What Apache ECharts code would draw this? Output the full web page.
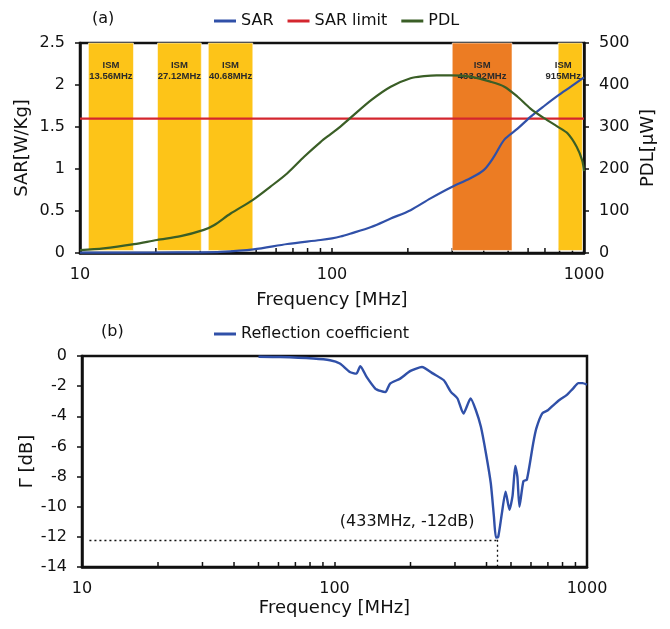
<!DOCTYPE html>
<html><head><meta charset="utf-8">
<script src="https://cdn.jsdelivr.net/npm/echarts@6/dist/echarts.min.js"></script>
<style>html,body{margin:0;padding:0;background:#fff}#c{width:670px;height:629px}</style>
</head><body><div id="c"></div>
<script>
// ---------- DATA ----------
const sarFreq = [10, 20, 30, 36, 48.8, 66.5, 90, 100, 108, 118, 143, 171, 205, 246, 296, 354, 401, 440, 483, 545, 613, 695, 785, 887, 1000];
const sarValues = [0.005, 0.006, 0.008, 0.013, 0.044, 0.107, 0.155, 0.175, 0.196, 0.23, 0.31, 0.41, 0.51, 0.65, 0.78, 0.89, 0.99, 1.15, 1.35, 1.48, 1.62, 1.75, 1.87, 1.98, 2.09];
const sarLimitFreq = [10, 1000];
const sarLimitValues = [1.6, 1.6];
const pdlFreq = [10, 12.4, 16.4, 20.2, 25.1, 31, 34, 39.6, 48.4, 57, 66.5, 77.5, 90, 98.8, 108, 118, 143, 171, 205, 232, 260, 296, 354, 425, 483, 545, 613, 695, 785, 860, 935, 983, 1000];
const pdlValues = [7, 11, 21, 31, 40, 55, 66, 94, 126, 158, 190, 229, 264, 283, 301, 321, 364, 396, 416, 421, 423, 423, 420, 408, 396, 372, 344, 321, 301, 285, 253, 221, 195];
const reflFreq = [50, 61, 82.5, 96, 105, 115, 122, 126.5, 134, 145, 152, 159, 166, 182, 200, 222, 246, 271, 289, 307, 324, 346, 363, 380, 398, 416, 428, 436, 445, 460, 476, 493, 507, 520, 530, 540, 560, 578, 612, 630, 665, 700, 735, 780, 830, 880, 925, 960, 1000];
const reflValues = [-0.05, -0.07, -0.17, -0.28, -0.5, -1.06, -1.17, -0.68, -1.39, -2.16, -2.32, -2.4, -1.83, -1.5, -0.99, -0.73, -1.17, -1.61, -2.38, -2.82, -3.82, -2.82, -3.6, -4.7, -6.47, -8.46, -10.67, -12.04, -12.0, -10.45, -9.0, -10.2, -9.3, -7.3, -8.0, -10.0, -8.3, -8.2, -5.8, -4.8, -3.8, -3.6, -3.27, -2.9, -2.6, -2.16, -1.8, -1.8, -1.9];
const ismStart = [10.8, 20.3, 32.3, 300, 790];
const ismEnd = [16.3, 30.3, 48.5, 518, 985];
const ismLabels = ['ISM\n13.56MHz', 'ISM\n27.12MHz', 'ISM\n40.68MHz', 'ISM\n433.92MHz', 'ISM\n915MHz'];
const minorTicks = [20, 30, 40, 50, 60, 70, 80, 90, 200, 300, 400, 500, 600, 700, 800, 900];
const markFreq = 440, markGamma = -12.2, markLineStart = 10.7;
const markText = '(433MHz, -12dB)';
const markTextPos = [194, -11.0];
const xTickLabels = {10: '10', 100: '100', 1000: '1000'};

// ---------- STYLE ----------
const FONT = 'DejaVu Sans';
const bandColors = ['#FDC418', '#FDC418', '#FDC418', '#EC7C23', '#FDC418'];
const bandLabelOffset = [[0,0],[0,0],[0,0],[0,0],[-7,0]];
const BLUE = '#3050A8', RED = '#D4262E', GREEN = '#3A5E26', INK = '#111';

const pair = (xs, ys) => xs.map((x, i) => [x, ys[i]]);

function xAxisBase(grid, nameGap) {
  return {
    type: 'log', logBase: 10, gridIndex: grid, min: 10, max: 1000, position: 'bottom',
    name: 'Frequency [MHz]', nameLocation: 'middle', nameGap: nameGap, nameMoveOverlap: false,
    nameTextStyle: {fontFamily: FONT, fontSize: 18, color: INK},
    axisLine: {show: true, onZero: false, lineStyle: {color: INK, width: 2.5}},
    axisTick: {show: true, inside: true, length: 5, lineStyle: {color: INK, width: 1.5}},
    axisLabel: {fontFamily: FONT, fontSize: 16, color: INK, margin: 14,
      formatter: v => xTickLabels[Math.round(v)] || String(Math.round(v))},
    splitLine: {show: false}
  };
}
function yAxisBase(grid, opts) {
  return Object.assign({
    type: 'value', gridIndex: grid, nameLocation: 'middle', nameRotate: 90, nameMoveOverlap: false,
    nameTextStyle: {fontFamily: FONT, fontSize: 18, color: INK},
    axisLine: {show: true, onZero: false, lineStyle: {color: INK, width: 2.5}},
    axisTick: {show: true, inside: false, length: 5, lineStyle: {color: INK, width: 1.5}},
    axisLabel: {fontFamily: FONT, fontSize: 16, color: INK, margin: 15},
    splitLine: {show: false}
  }, opts);
}
function minorTickSeries(xi, yi, yBase, z) {
  return {
    type: 'custom', xAxisIndex: xi, yAxisIndex: yi, z: z, silent: true, clip: false,
    data: minorTicks.map(f => [f, yBase]), encode: {x: 0, y: 1},
    renderItem: (params, api) => {
      const p = api.coord([api.value(0), yBase]);
      return {type: 'line', shape: {x1: p[0], y1: p[1], x2: p[0], y2: p[1] - 5},
        style: {stroke: INK, lineWidth: 1.5, fill: null}};
    }
  };
}

const chart = echarts.init(document.getElementById('c'), null, {renderer: 'canvas'});
chart.setOption({
  animation: false,
  backgroundColor: '#fff',
  textStyle: {fontFamily: FONT},
  title: [
    {text: '(a)', left: 87, top: 6, textStyle: {fontFamily: FONT, fontSize: 16, fontWeight: 'normal', color: INK}},
    {text: '(b)', left: 96, top: 319, textStyle: {fontFamily: FONT, fontSize: 16, fontWeight: 'normal', color: INK}}
  ],
  legend: [
    {data: ['SAR', 'SAR limit', 'PDL'], left: 209, top: 8, icon: 'rect', itemWidth: 22, itemHeight: 3, itemGap: 14,
      textStyle: {fontFamily: FONT, fontSize: 16, color: INK}},
    {data: ['Reflection coefficient'], left: 209, top: 321, icon: 'rect', itemWidth: 22, itemHeight: 3,
      textStyle: {fontFamily: FONT, fontSize: 16, color: INK}}
  ],
  grid: [
    {left: 80, right: 86, top: 43, height: 210, show: true, borderColor: INK, borderWidth: 2.5, containLabel: false},
    {left: 82, right: 83, top: 356, height: 211, show: true, borderColor: INK, borderWidth: 2.5, containLabel: false}
  ],
  xAxis: [xAxisBase(0, 38), xAxisBase(1, 32)],
  yAxis: [
    yAxisBase(0, {min: 0, max: 2.5, interval: 0.5, name: 'SAR[W/Kg]', nameGap: 49}),
    yAxisBase(0, {min: 0, max: 500, interval: 100, name: 'PDL[μW]', nameGap: 55, position: 'right'}),
    yAxisBase(1, {min: -14, max: 0, interval: 2, name: 'Γ [dB]', nameGap: 46})
  ],
  series: [
    minorTickSeries(0, 0, 0, 1),
    minorTickSeries(1, 2, -14, 5),
    {
      name: 'SAR limit', type: 'line', xAxisIndex: 0, yAxisIndex: 0, z: 3,
      data: pair(sarLimitFreq, sarLimitValues), symbol: 'none',
      lineStyle: {color: RED, width: 2.2}, itemStyle: {color: RED},
      markArea: {
        silent: true, z: 2,
        data: ismStart.map((s, i) => [
          {coord: [s, 0.03], itemStyle: {color: bandColors[i], borderColor: 'rgba(255,255,255,0.55)', borderWidth: 1},
           label: {show: true, position: 'insideTop', distance: 17, offset: bandLabelOffset[i], formatter: ismLabels[i],
             fontFamily: 'Liberation Sans', fontSize: 9.5, fontWeight: 'bold', color: '#2a2a2a', lineHeight: 11, align: 'center'}},
          {coord: [ismEnd[i], 2.5]}
        ])
      }
    },
    {
      name: 'SAR', type: 'line', xAxisIndex: 0, yAxisIndex: 0, z: 4, smooth: 0.3,
      data: pair(sarFreq, sarValues), symbol: 'none',
      lineStyle: {color: BLUE, width: 2.2}, itemStyle: {color: BLUE}
    },
    {
      name: 'PDL', type: 'line', xAxisIndex: 0, yAxisIndex: 1, z: 4, smooth: 0.3,
      data: pair(pdlFreq, pdlValues), symbol: 'none',
      lineStyle: {color: GREEN, width: 2.2}, itemStyle: {color: GREEN}
    },
    {
      name: 'Reflection coefficient', type: 'line', xAxisIndex: 1, yAxisIndex: 2, z: 4, smooth: 0.2,
      data: pair(reflFreq, reflValues), symbol: 'none',
      lineStyle: {color: BLUE, width: 2.4}, itemStyle: {color: BLUE},
      markLine: {
        silent: true, symbol: 'none', animation: false,
        lineStyle: {color: INK, width: 1.3, type: [2, 3]},
        label: {show: false},
        data: [
          [{coord: [markLineStart, markGamma]}, {coord: [markFreq, markGamma]}],
          [{coord: [markFreq, markGamma]}, {coord: [markFreq, -14]}]
        ]
      },
      markPoint: {
        silent: true, symbol: 'circle', symbolSize: 1, itemStyle: {color: 'rgba(0,0,0,0)'},
        label: {show: true, position: 'inside', formatter: markText, fontFamily: FONT, fontSize: 16, color: INK},
        data: [{coord: markTextPos}]
      }
    }
  ]
});
</script></body></html>
